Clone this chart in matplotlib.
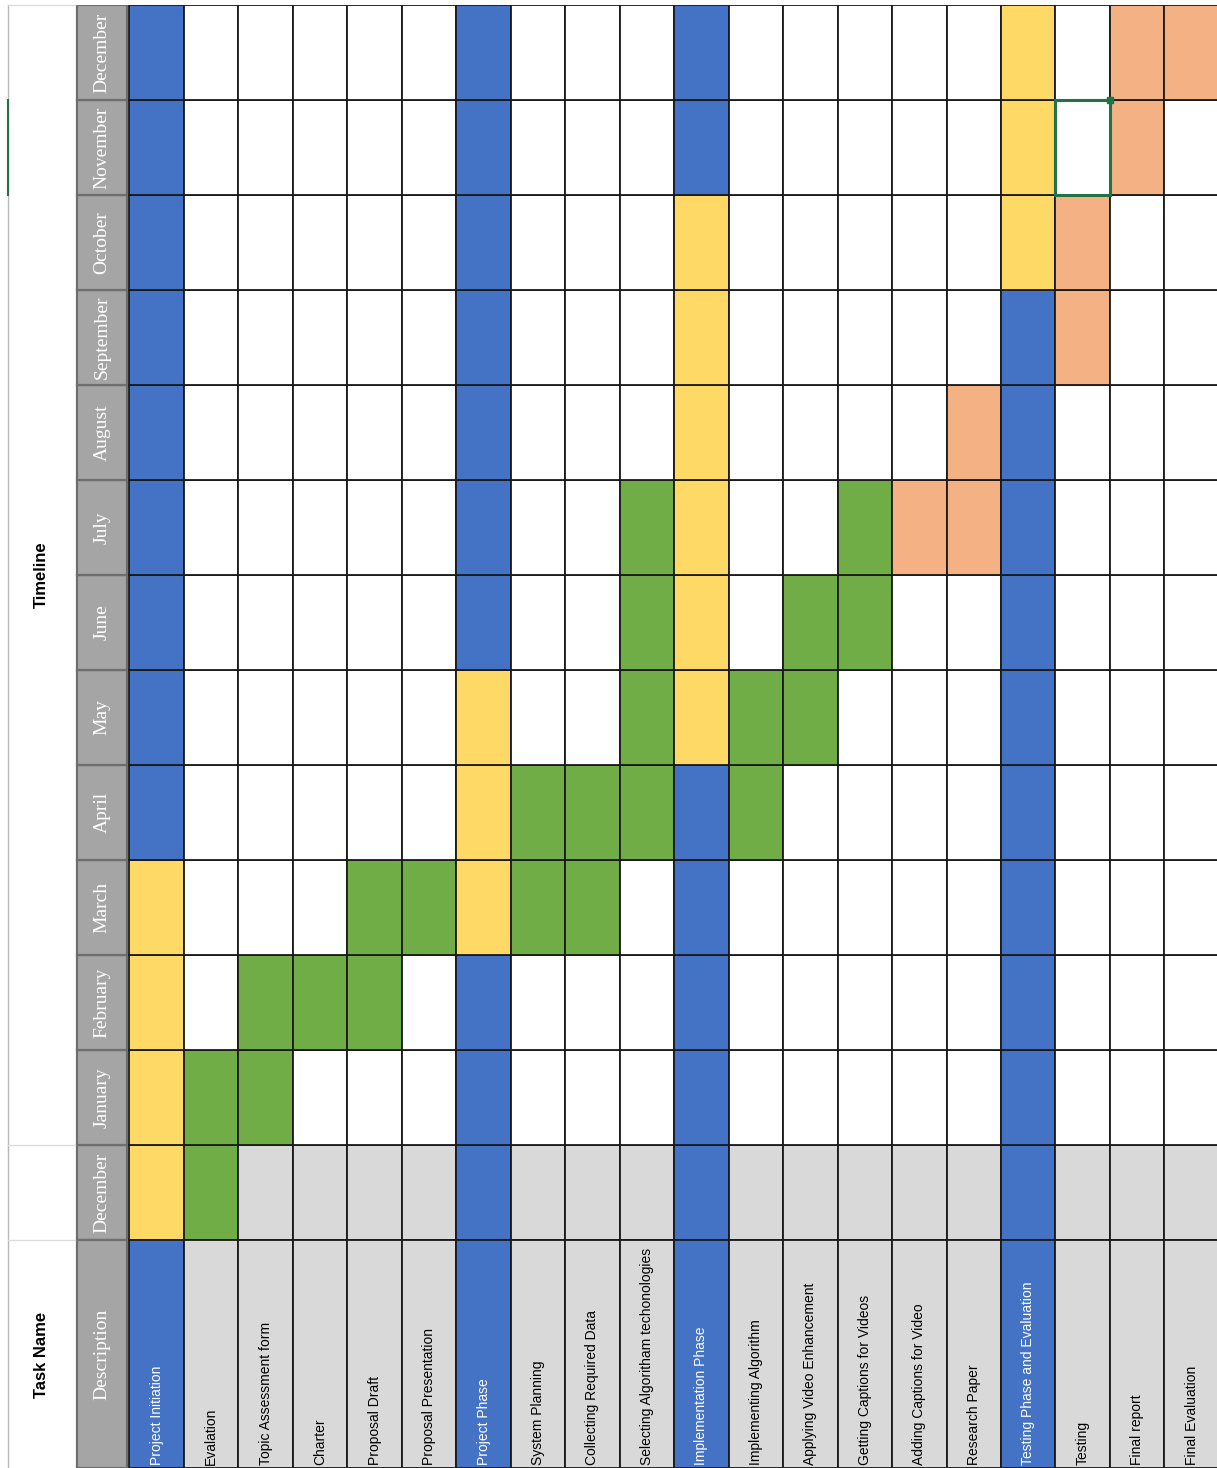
import matplotlib.pyplot as plt
from matplotlib.patches import Rectangle

# timeline rows (rotated spreadsheet: months run bottom -> top)
months = ['December', 'January', 'February', 'March', 'April', 'May', 'June',
          'July', 'August', 'September', 'October', 'November', 'December']

tasks = ['Project Initiation', 'Evalation', 'Topic Assessment form', 'Charter',
         'Proposal Draft', 'Proposal Presentation', 'Project Phase',
         'System Planning', 'Collecting Required Data',
         'Selecting Algoritham techonologies', 'Implementation Phase',
         'Implementing Algorithm', 'Applying Video Enhancement',
         'Getting Captions for Videos', 'Adding Captions for Video',
         'Research Paper', 'Testing Phase and Evaluation', 'Testing',
         'Final report', 'Final Evaluation']

# kind: phase / work / doc ; start and end month index (inclusive)
kinds = ['phase', 'work', 'work', 'work', 'work', 'work', 'phase',
         'work', 'work', 'work', 'phase', 'work', 'work', 'work', 'doc',
         'doc', 'phase', 'doc', 'doc', 'doc']
starts = [0, 0, 1, 2, 2, 3, 3, 3, 3, 4, 5, 4, 5, 6, 7, 7, 10, 9, 11, 12]
ends = [3, 1, 2, 2, 3, 3, 5, 4, 4, 7, 10, 5, 6, 7, 7, 8, 12, 10, 12, 12]

BLUE = '#4472c4'
YELLOW = '#ffd966'
GREEN = '#70ad47'
ORANGE = '#f4b183'
HEAD = '#a5a5a5'
LIGHT = '#d9d9d9'
fill = {'work': GREEN, 'doc': ORANGE}

W, H = 1217, 1468
col_w, row_h = 54.47, 95.0
x0, y_top = 75, 5
desc_h = (H - y_top) / row_h - len(months)

fig = plt.figure(figsize=(W / 100, H / 100), dpi=100)
ax = fig.add_axes([x0 / W, 0, (W - x0) / W, (H - y_top) / H])
ax.set_xlim(0, (W - x0) / col_w)
ax.set_ylim(-desc_h, len(months))
ax.axis('off')

narrow = ['Liberation Sans Narrow', 'Liberation Sans', 'DejaVu Sans']
serif = ['Liberation Serif', 'DejaVu Serif']

# header column
ax.bar([0.5] * len(months), 1, bottom=range(len(months)), width=0.92,
       color=HEAD, edgecolor='#6e6e6e', linewidth=1.6)
ax.bar(0.5, desc_h, bottom=-desc_h, width=0.92, color=HEAD,
       edgecolor='#6e6e6e', linewidth=1.6)
for j, m in enumerate(months):
    ax.text(0.5, j + 0.5, m, rotation=90, ha='center', va='center',
            color='white', fontsize=14, family=serif)
ax.text(0.5, -desc_h / 2, 'Description', rotation=90, ha='center',
        va='center', color='white', fontsize=14, family=serif)

# task columns
for i, t in enumerate(tasks):
    cols = []
    for j in range(len(months)):
        inside = starts[i] <= j <= ends[i]
        if kinds[i] == 'phase':
            cols.append(YELLOW if inside else BLUE)
        elif inside:
            cols.append(fill[kinds[i]])
        else:
            cols.append(LIGHT if j == 0 else 'white')
    ax.bar([i + 1] * len(months), 1, bottom=range(len(months)), width=1,
           align='edge', color=cols, edgecolor='#1a1a1a', linewidth=1.3)
    phase = kinds[i] == 'phase'
    ax.bar(i + 1, desc_h, bottom=-desc_h, width=1, align='edge',
           color=BLUE if phase else LIGHT, edgecolor='#1a1a1a', linewidth=1.3)
    ax.text(i + 1.5, -desc_h + 0.03, t, rotation=90, ha='center', va='bottom',
            color='white' if phase else 'black', fontsize=10, family=narrow)

# selected cell (Testing / November)
sel_x = tasks.index('Testing') + 1
ax.add_patch(Rectangle((sel_x, 11), 1, 1, fill=False, edgecolor='#217346',
                       linewidth=2.2, zorder=5))
ax.plot(sel_x + 1, 12, marker='s', markersize=4, color='#217346', zorder=6)

# left title strip
left = (8 - x0) / col_w
ax.plot([left, left], [-desc_h, len(months)], color='#b8b8b8', lw=1,
        clip_on=False)
ax.plot([left, left], [11, 12], color='#217346', lw=1.5, clip_on=False)
for yy in [len(months), 1, 0]:
    ax.plot([left, 0], [yy, yy], color='#dcdcdc', lw=1, clip_on=False)
ax.text(left / 2, -1.21, 'Task Name', rotation=90, ha='center', va='center',
        fontsize=12, fontweight='bold', family=narrow)
ax.text(left / 2, 7.0, 'Timeline', rotation=90, ha='center', va='center',
        fontsize=12, fontweight='bold', family=narrow)

fig.savefig('out.png', dpi=100, facecolor='white')
